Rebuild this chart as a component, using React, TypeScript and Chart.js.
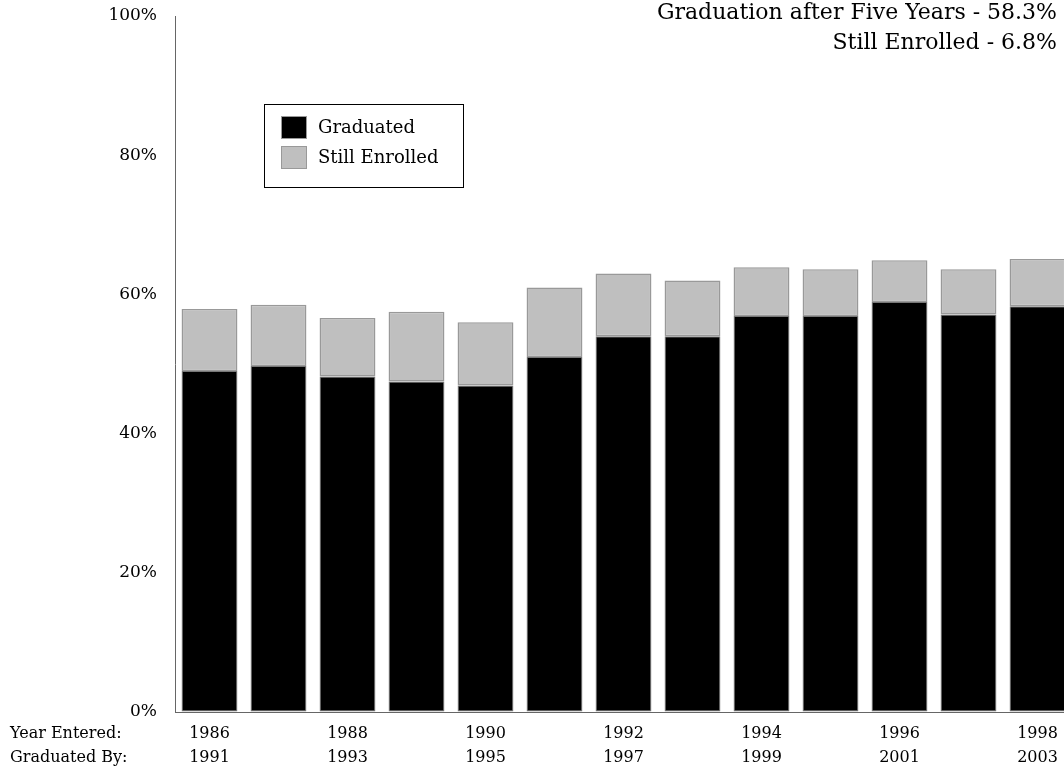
import React, { useEffect, useRef } from 'react';
import { Chart, registerables } from 'chart.js';

Chart.register(...registerables);

const yearEntered = ['1986', '1987', '1988', '1989', '1990', '1991', '1992', '1993', '1994', '1995', '1996', '1997', '1998'];
const graduatedBy = ['1991', '1992', '1993', '1994', '1995', '1996', '1997', '1998', '1999', '2000', '2001', '2002', '2003'];
const graduated = [49.0, 49.7, 48.2, 47.5, 46.9, 51.0, 54.0, 54.0, 56.9, 56.9, 58.9, 57.1, 58.3];
const stillEnrolled = [8.9, 8.8, 8.4, 10.0, 9.1, 10.0, 9.0, 8.0, 7.0, 6.7, 6.0, 6.5, 6.8];
const seriesNames = ['Graduated', 'Still Enrolled'];
const titleLines = ['Graduation after Five Years - 58.3%', 'Still Enrolled - 6.8%'];
const rowLabels = ['Year Entered:', 'Graduated By:'];
const yMin = 0;
const yMax = 100;
const yStep = 20;

const FONT = '"DejaVu Serif", serif';

const overlayPlugin = {
  id: 'overlay',
  afterDraw(chart: any) {
    const ctx = chart.ctx;
    ctx.save();
    // titles
    ctx.fillStyle = '#000';
    ctx.textAlign = 'right';
    ctx.textBaseline = 'alphabetic';
    ctx.font = `22px ${FONT}`;
    ctx.fillText(titleLines[0], 1057, 19);
    ctx.fillText(titleLines[1], 1057, 49);
    // row labels
    ctx.textAlign = 'left';
    ctx.textBaseline = 'middle';
    ctx.font = `16px ${FONT}`;
    ctx.fillText(rowLabels[0], 10, 734);
    ctx.fillText(rowLabels[1], 10, 758);
    // legend
    ctx.strokeStyle = '#000';
    ctx.lineWidth = 1;
    ctx.fillStyle = '#fff';
    ctx.fillRect(265, 105, 198, 82);
    ctx.strokeRect(264.5, 104.5, 199, 83);
    const ds = chart.data.datasets;
    const rows = [116, 146];
    ds.forEach((d: any, i: number) => {
      const y = rows[i];
      ctx.fillStyle = d.backgroundColor;
      ctx.fillRect(281, y, 26, 23);
      ctx.strokeStyle = '#999999';
      ctx.strokeRect(281.5, y + 0.5, 25, 22);
      ctx.fillStyle = '#000';
      ctx.font = `18px ${FONT}`;
      ctx.textAlign = 'left';
      ctx.textBaseline = 'middle';
      ctx.fillText(d.label, 318, y + 12);
    });
    ctx.restore();
  },
};

export default function App() {
  const ref = useRef<HTMLCanvasElement | null>(null);
  useEffect(() => {
    if (!ref.current) return;
    const chart = new Chart(ref.current, {
      type: 'bar',
      data: {
        labels: yearEntered,
        datasets: [
          {
            label: seriesNames[0],
            data: graduated,
            backgroundColor: '#000000',
            borderColor: '#777777',
            borderWidth: 1,
            borderSkipped: false,
            barPercentage: 0.81,
            categoryPercentage: 1,
          },
          {
            label: seriesNames[1],
            data: stillEnrolled,
            backgroundColor: '#bfbfbf',
            borderColor: '#999999',
            borderWidth: 1.5,
            borderSkipped: false,
            barPercentage: 0.81,
            categoryPercentage: 1,
          },
        ],
      },
      options: {
        responsive: false,
        animation: false,
        layout: { padding: { top: 16, right: 8, left: 0, bottom: 0 } },
        plugins: {
          legend: { display: false },
          title: { display: false },
          tooltip: { enabled: false },
        },
        scales: {
          x: {
            stacked: true,
            offset: true,
            grid: { display: true, drawOnChartArea: false, drawTicks: false },
            border: { display: true, color: '#666', width: 1 },
            ticks: {
              autoSkip: false,
              maxRotation: 0,
              minRotation: 0,
              padding: 10,
              color: '#000',
              font: { family: FONT, size: 16, lineHeight: 1.5 },
              callback: (_v: any, i: number) => (i % 2 === 0 ? [yearEntered[i], graduatedBy[i]] : ''),
            },
            afterFit: (scale: any) => {
              scale.height = 59;
              scale.paddingLeft = 0;
              scale.paddingRight = 0;
            },
          },
          y: {
            stacked: true,
            min: yMin,
            max: yMax,
            grid: { display: true, drawOnChartArea: false, drawTicks: false },
            border: { display: true, color: '#666', width: 1 },
            ticks: {
              stepSize: yStep,
              padding: 18,
              color: '#000',
              font: { family: FONT, size: 17 },
              callback: (v: any) => `${v}%`,
            },
            afterFit: (scale: any) => {
              scale.width = 175;
              scale.paddingTop = 0;
              scale.paddingBottom = 0;
            },
          },
        },
      },
      plugins: [overlayPlugin],
    });
    return () => chart.destroy();
  }, []);
  return (
    <div style={{ position: 'fixed', left: 0, top: 0, width: 1064, height: 771, overflow: 'hidden', background: '#fff' }}>
      <canvas ref={ref} width={1080} height={771} style={{ display: 'block' }} />
    </div>
  );
}
